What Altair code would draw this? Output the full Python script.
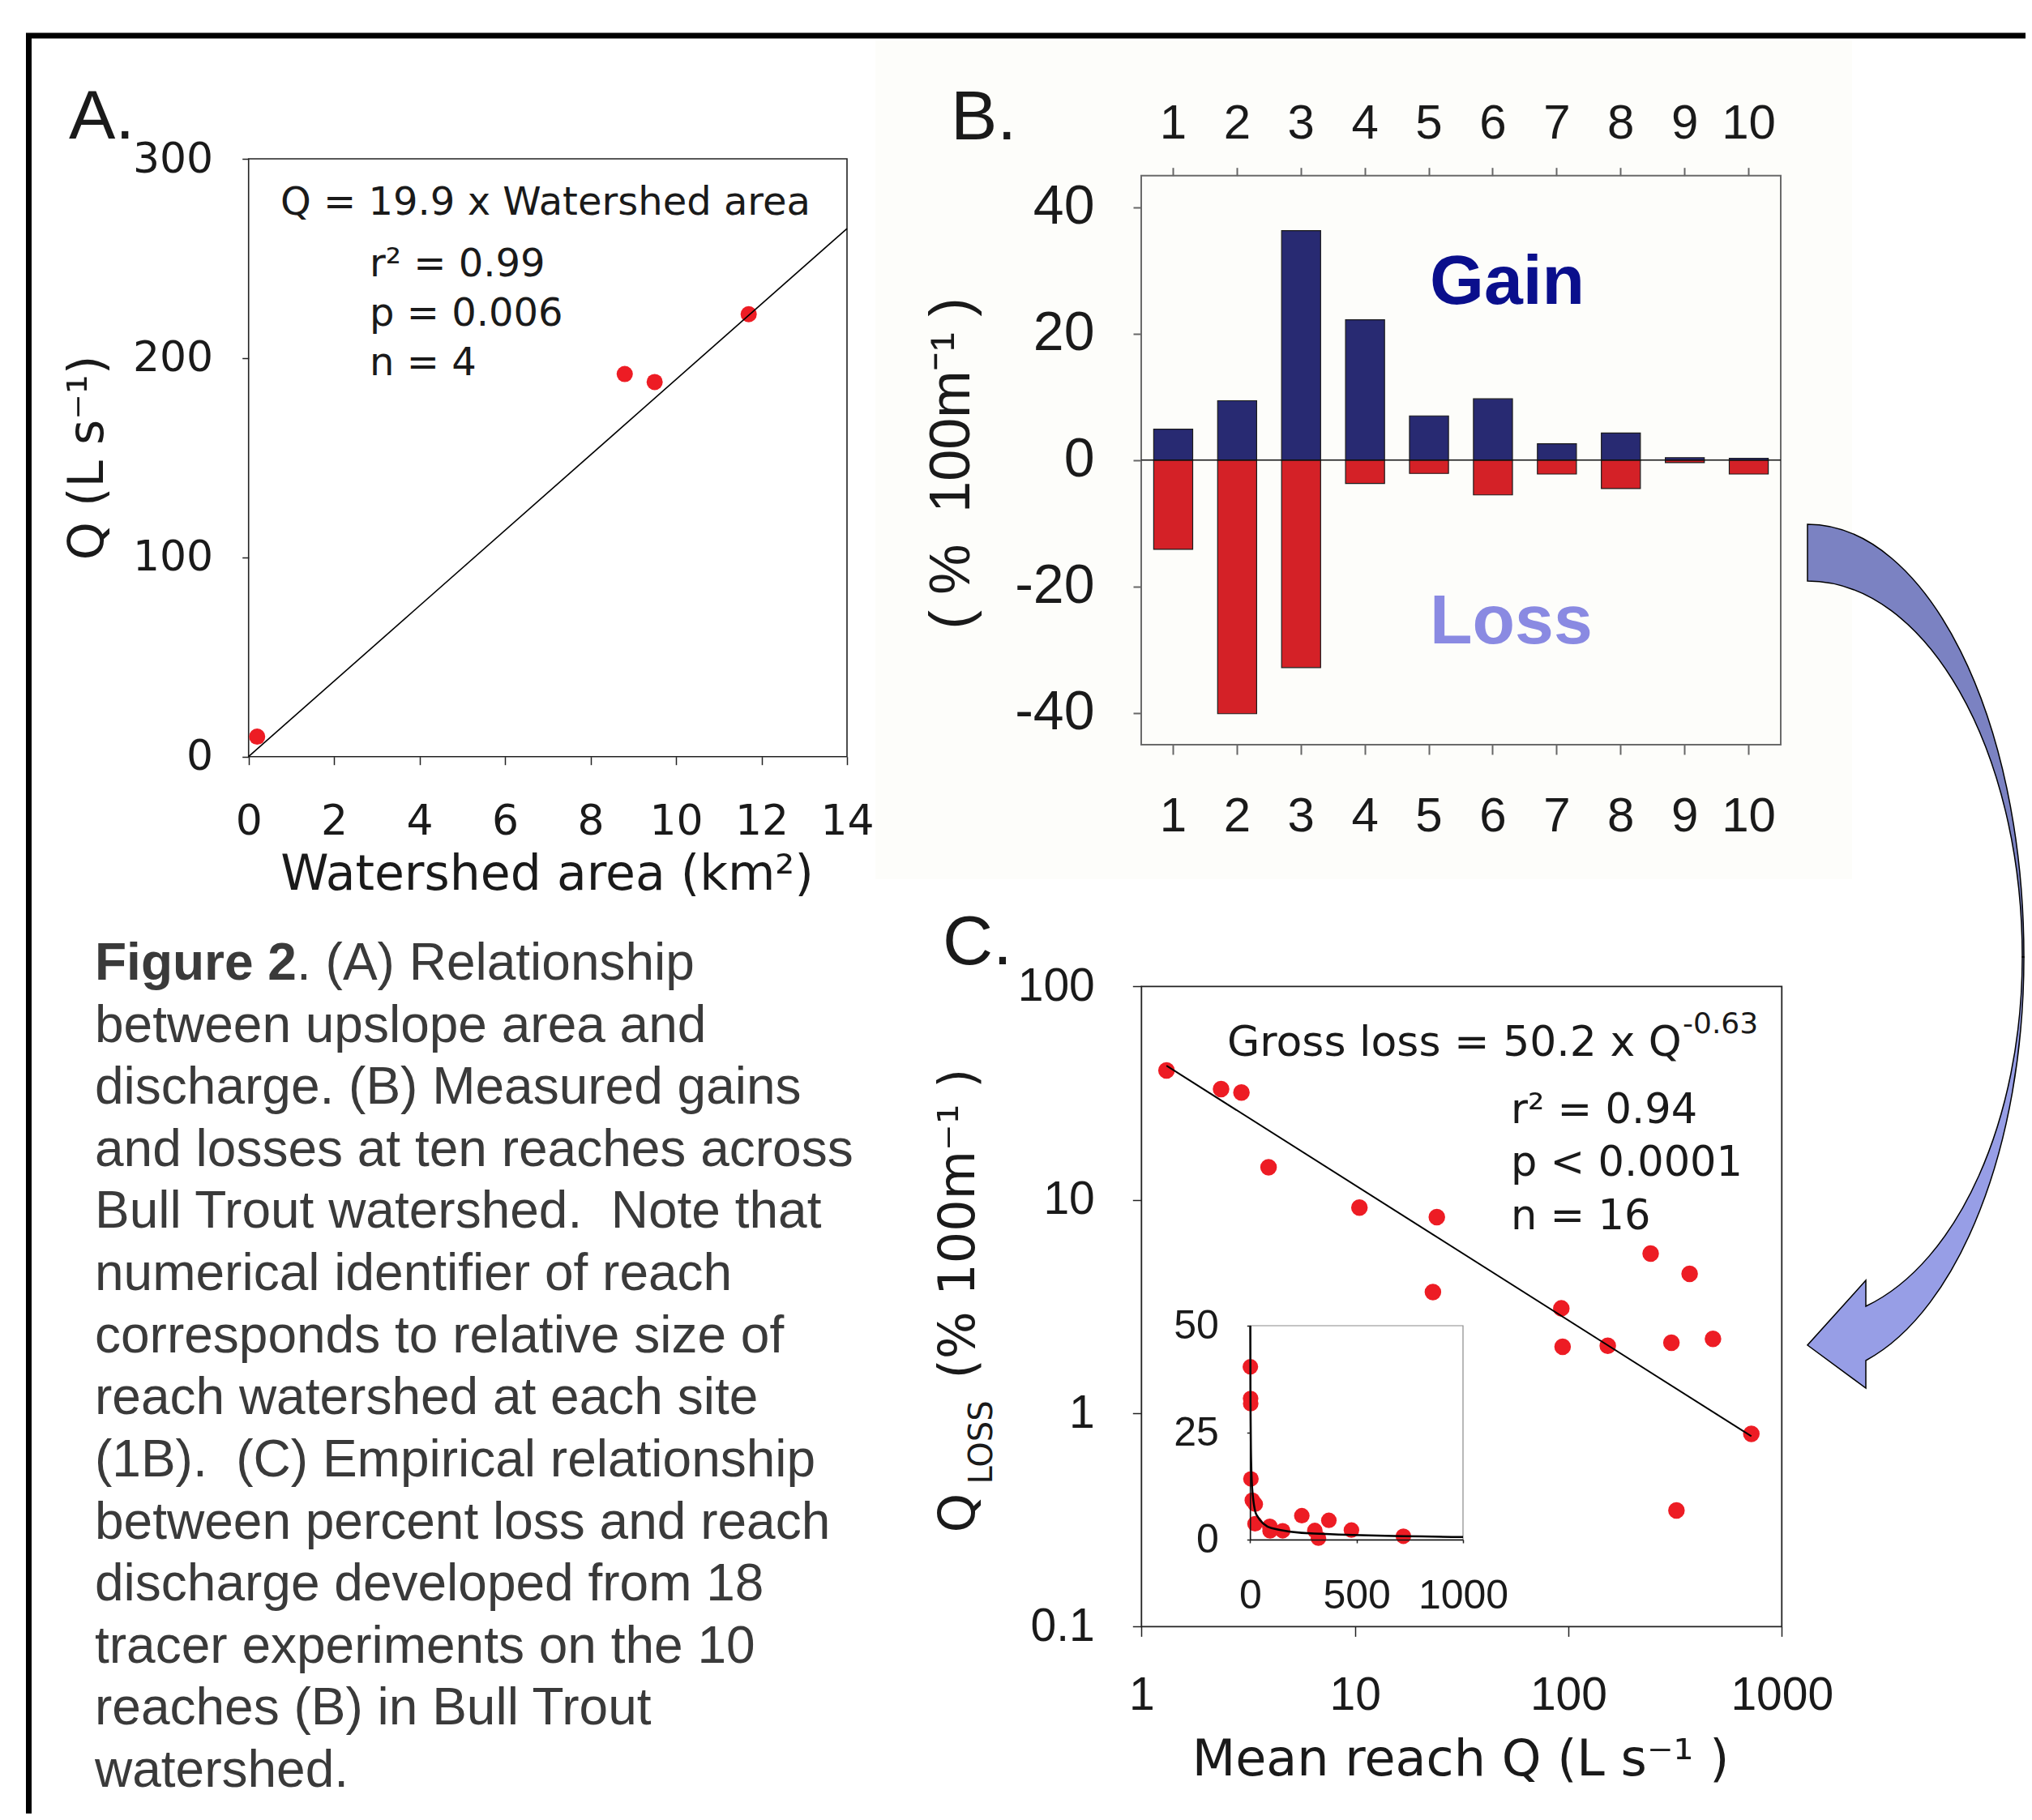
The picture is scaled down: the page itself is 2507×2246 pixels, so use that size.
import altair as alt
import pandas as pd

W, H = 2491, 2230
PAGE = 8


def c(v):
    return round(v - PAGE, 1)


WIDE = "DejaVu Sans"
ARIAL = "Liberation Sans"
INK = "#1a1a1a"
RED = "#ed1c24"
NB = "\u00a0"

# ---------------- data ----------------
# Panel A
area_km2 = [0.2, 8.8, 9.5, 11.7]
q_lps = [10, 192, 188, 222]
fitA_area = [0, 14]
fitA_q = [0, 265]

# Panel B
reach_ids = ["1", "2", "3", "4", "5", "6", "7", "8", "9", "10"]
gain_pct = [4.9, 9.4, 36.3, 22.2, 7.0, 9.7, 2.6, 4.3, 0.4, 0.3]
loss_pct = [-14.1, -40.1, -32.8, -3.7, -2.1, -5.5, -2.2, -4.5, -0.4, -2.2]

# Panel C
mean_q = [1.31, 2.36, 2.94, 3.94, 10.5, 24.2, 23.2, 92.7, 94, 153, 243, 304, 370, 476, 720, 321]
gross_loss = [40.4, 33.0, 31.8, 14.2, 9.2, 8.3, 3.7, 3.1, 2.05, 2.07, 5.6, 2.14, 4.5, 2.23, 0.80, 0.35]
fitC_q = [1.31, 720]
fitC_loss = [42.5, 0.78]
curve_q = [1, 2, 4, 10, 30, 100, 300, 1000]
curve_loss = [50, 32, 21, 11.8, 5.8, 2.7, 1.4, 0.6]

caption_rest = [
    "between upslope area and",
    "discharge. (B) Measured gains",
    "and losses at ten reaches across",
    "Bull Trout watershed." + NB + " Note that",
    "numerical identifier of reach",
    "corresponds to relative size of",
    "reach watershed at each site",
    "(1B)." + NB + " (C) Empirical relationship",
    "between percent loss and reach",
    "discharge developed from 18",
    "tracer experiments on the 10",
    "reaches (B) in Bull Trout",
    "watershed.",
]

# ---------------- scales ----------------
A_X = alt.Scale(domain=[0, 14], range=[c(306.7), c(1045)], nice=False, zero=False)
A_Y = alt.Scale(domain=[0, 300], range=[c(933.7), c(196)], nice=False, zero=False)
B_X = alt.Scale(domain=reach_ids, range=[c(1408), c(2197)], paddingInner=0.39, paddingOuter=0.195)
B_Y = alt.Scale(domain=[-45, 45], range=[c(919), c(216.7)], nice=False, zero=False)
C_X = alt.Scale(type="log", domain=[1, 1000], range=[c(1408.3), c(2198.3)], nice=False)
C_Y = alt.Scale(type="log", domain=[0.1, 100], range=[c(2007.4), c(1217.3)], nice=False)
I_X = alt.Scale(domain=[0, 1000], range=[c(1542.3), c(1805)], nice=False, zero=False)
I_Y = alt.Scale(domain=[0, 50], range=[c(1900), c(1636)], nice=False, zero=False)
CAP_Y = alt.Scale(domain=[0, 13], range=[c(1190), c(2186)], nice=False, zero=False)


def ax(orient, offset, values, tick, pad, font, size, color=INK, tcolor="#222",
       fmt=None, tw=1.5, domain=False, dcolor="#111", dwidth=1.5, expr=None):
    kw = dict(orient=orient, offset=offset, values=values, tickSize=tick, labelPadding=pad,
              labelFont=font, labelFontSize=size, labelColor=color, tickColor=tcolor,
              tickWidth=tw, domain=domain, grid=False, title=None, labelFlush=False,
              labelOverlap=False, labelAngle=0, zindex=2)
    if domain:
        kw["domainColor"] = dcolor
        kw["domainWidth"] = dwidth
    if orient in ("top", "bottom"):
        kw["labelBaseline"] = "middle"
    if fmt:
        kw["format"] = fmt
    if expr:
        kw["labelExpr"] = expr
    return alt.Axis(**kw)


one = pd.DataFrame({"k": [0]})


def text(txt, x, y, size, font=ARIAL, color=INK, align="left", baseline="alphabetic",
         weight="normal", angle=0):
    return alt.Chart(pd.DataFrame({"t": [txt]})).mark_text(
        font=font, fontSize=size, color=color, align=align, baseline=baseline,
        fontWeight=weight, angle=angle
    ).encode(text="t:N", x=alt.value(c(x)), y=alt.value(c(y)))


layers = []

# faint cream background of the panel-B image
layers.append(alt.Chart(one).mark_rect(color="#fdfdfa").encode(
    x=alt.value(c(1080)), x2=alt.value(c(2285)), y=alt.value(c(50)), y2=alt.value(c(1085))))

# outer black border (top and left)
layers.append(alt.Chart(one).mark_rule(color="black", strokeWidth=7).encode(
    x=alt.value(c(32)), x2=alt.value(W), y=alt.value(c(44))))
layers.append(alt.Chart(one).mark_rule(color="black", strokeWidth=7).encode(
    x=alt.value(c(35.5)), y=alt.value(c(41)), y2=alt.value(H)))

# ---------------- Panel A ----------------
dfA = pd.DataFrame({"area": area_km2, "q": q_lps})
dfAfit = pd.DataFrame({"area": fitA_area, "q": fitA_q})
layers.append(alt.Chart(one).mark_rect(fillOpacity=0, stroke="#222", strokeWidth=1.6).encode(
    x=alt.XDatum(0, scale=A_X, axis=None), x2=alt.X2Datum(14),
    y=alt.YDatum(0, scale=A_Y, axis=None), y2=alt.Y2Datum(300)))
layers.append(alt.Chart(dfA).mark_circle(size=400, color=RED, opacity=1).encode(
    x=alt.X("area:Q", scale=A_X,
            axis=ax("bottom", c(933.7) - H, [0, 2, 4, 6, 8, 10, 12, 14], 10, 70, WIDE, 52)),
    y=alt.Y("q:Q", scale=A_Y,
            axis=ax("left", -c(306.7), [0, 100, 200, 300], 8, 36, WIDE, 52))))
layers.append(alt.Chart(dfAfit).mark_line(color="black", strokeWidth=1.6).encode(
    x=alt.X("area:Q", scale=A_X, axis=None), y=alt.Y("q:Q", scale=A_Y, axis=None)))

# ---------------- Panel B ----------------
dfB = pd.DataFrame({"reach": reach_ids, "gain": gain_pct, "loss": loss_pct})
layers.append(alt.Chart(dfB).mark_bar(color="#282a72", stroke="#1b1b1b", strokeWidth=1.2).encode(
    x=alt.X("reach:N", scale=B_X, sort=reach_ids,
            axis=ax("bottom", c(919) - H, reach_ids, 12, 76, ARIAL, 60, tcolor="#666", tw=2)),
    y=alt.Y("gain:Q", scale=B_Y,
            axis=ax("left", -c(1408), [-40, -20, 0, 20, 40], 10, 48, ARIAL, 68,
                    tcolor="#666", tw=2, expr="'' + datum.value")),
    y2=alt.Y2Datum(0)))
layers.append(alt.Chart(dfB).mark_bar(color="#d42127", stroke="#1b1b1b", strokeWidth=1.2).encode(
    x=alt.X("reach:N", scale=B_X, sort=reach_ids,
            axis=ax("top", -c(216.7), reach_ids, 10, 54, ARIAL, 60, tcolor="#666", tw=2)),
    y=alt.Y("loss:Q", scale=B_Y, axis=None),
    y2=alt.Y2Datum(0)))
layers.append(alt.Chart(one).mark_rect(fillOpacity=0, stroke="#6a6a6a", strokeWidth=2).encode(
    x=alt.value(c(1408)), x2=alt.value(c(2197)),
    y=alt.YDatum(45, scale=B_Y, axis=None), y2=alt.Y2Datum(-45)))
layers.append(alt.Chart(one).mark_rule(color="#111", strokeWidth=1.5).encode(
    x=alt.value(c(1408)), x2=alt.value(c(2197)),
    y=alt.YDatum(0, scale=B_Y, axis=None)))

# ---------------- Panel C ----------------
dfC = pd.DataFrame({"mq": mean_q, "gl": gross_loss})
dfCfit = pd.DataFrame({"mq": fitC_q, "gl": fitC_loss})
dfCurve = pd.DataFrame({"mq": curve_q, "gl": curve_loss})
layers.append(alt.Chart(one).mark_rect(fillOpacity=0, stroke="#222", strokeWidth=1.8).encode(
    x=alt.XDatum(1, scale=C_X, axis=None), x2=alt.X2Datum(1000),
    y=alt.YDatum(0.1, scale=C_Y, axis=None), y2=alt.Y2Datum(100)))
layers.append(alt.Chart(dfC).mark_circle(size=420, color=RED, opacity=1).encode(
    x=alt.X("mq:Q", scale=C_X,
            axis=ax("bottom", c(2007.4) - H, [1, 10, 100, 1000], 12, 73, ARIAL, 57, fmt="~g")),
    y=alt.Y("gl:Q", scale=C_Y,
            axis=ax("left", -c(1408.3), [0.1, 1, 10, 100], 11, 47, ARIAL, 57, fmt="~g"))))
layers.append(alt.Chart(dfCfit).mark_line(color="black", strokeWidth=2).encode(
    x=alt.X("mq:Q", scale=C_X, axis=None), y=alt.Y("gl:Q", scale=C_Y, axis=None)))

# inset
layers.append(alt.Chart(one).mark_rect(fillOpacity=0, stroke="#8a8a8a", strokeWidth=1.2).encode(
    x=alt.XDatum(0, scale=I_X, axis=None), x2=alt.X2Datum(1000),
    y=alt.YDatum(0, scale=I_Y, axis=None), y2=alt.Y2Datum(50)))
layers.append(alt.Chart(dfC).mark_circle(size=370, color=RED, opacity=1).encode(
    x=alt.X("mq:Q", scale=I_X,
            axis=ax("bottom", c(1900) - H, [0, 500, 1000], 4, 65, ARIAL, 50, fmt="d", domain=True)),
    y=alt.Y("gl:Q", scale=I_Y,
            axis=ax("left", -c(1542.3), [0, 25, 50], 4, 35, ARIAL, 50, fmt="d", domain=True))))
layers.append(alt.Chart(dfCurve).mark_line(color="black", strokeWidth=2.5, interpolate="monotone").encode(
    x=alt.X("mq:Q", scale=I_X, axis=None), y=alt.Y("gl:Q", scale=I_Y, axis=None)))

# ---------------- texts ----------------
layers += [
    text("A.", 85, 171, 86),
    text("B.", 1173, 172, 86),
    text("C.", 1163, 1190, 86),
    # panel A
    text("Q = 19.9 x Watershed area", 346, 265, 48, WIDE),
    text("r² = 0.99", 456, 341, 48, WIDE),
    text("p = 0.006", 456, 402, 48, WIDE),
    text("n = 4", 456, 463, 48, WIDE),
    text("Watershed area (km²)", 675, 1098, 60, WIDE, align="center"),
    text("Q (L s⁻¹)", 109, 565, 60, WIDE, align="center", baseline="middle", angle=270),
    # panel B
    text("(" + NB + "%" + NB + " 100m⁻¹" + NB + ")", 1175, 572, 70, ARIAL,
         align="center", baseline="middle", angle=270),
    text("Gain", 1764, 349, 86, ARIAL, color="#0a0f8c", baseline="middle", weight="bold"),
    text("Loss", 1764, 768, 86, ARIAL, color="#8a8ae2", baseline="middle", weight="bold"),
    # panel C
    text("Gross loss = 50.2 x Q", 1514, 1303, 52, WIDE),
    text("-0.63", 2076, 1275, 36, WIDE),
    text("r² = 0.94", 1864, 1386, 51, WIDE),
    text("p < 0.0001", 1864, 1451, 51, WIDE),
    text("n = 16", 1864, 1517, 51, WIDE),
    text("Mean reach Q (L s⁻¹ )", 1802, 2191, 62, WIDE, align="center"),
    text("(% 100m⁻¹ )", 1183, 1510, 62, WIDE, align="center", baseline="middle", angle=270),
    text("Q", 1183, 1867, 62, WIDE, align="center", baseline="middle", angle=270),
    text("LOSS", 1212, 1780, 40, WIDE, align="center", baseline="middle", angle=270),
]

# caption
cap_df = pd.DataFrame({"i": list(range(1, 14)), "t": caption_rest})
layers.append(alt.Chart(cap_df).mark_text(
    font=ARIAL, fontSize=64, color="#3a3a3a", align="left", baseline="middle").encode(
    text="t:N", x=alt.value(c(117)), y=alt.Y("i:Q", scale=CAP_Y, axis=None)))
layers.append(alt.Chart(pd.DataFrame({"i": [0], "t": ["Figure 2"]})).mark_text(
    font=ARIAL, fontSize=64, color="#3a3a3a", align="left", baseline="middle", fontWeight="bold").encode(
    text="t:N", x=alt.value(c(117)), y=alt.Y("i:Q", scale=CAP_Y, axis=None)))
layers.append(alt.Chart(pd.DataFrame({"i": [0], "t": [". (A) Relationship"]})).mark_text(
    font=ARIAL, fontSize=64, color="#3a3a3a", align="left", baseline="middle").encode(
    text="t:N", x=alt.value(c(366)), y=alt.Y("i:Q", scale=CAP_Y, axis=None)))


# ---------------- curved arrow (decoration) ----------------
def P(x, y):
    return f"{c(x)},{c(y)}"


upper = (f"M{P(2230, 647)} A267,534 0 0 1 {P(2497, 1181)} L{P(2495, 1181)} "
         f"A265,464 0 0 0 {P(2230, 717)} Z")
lower = (f"M{P(2497, 1181)} A267,517 0 0 1 {P(2302, 1679)} L{P(2302, 1713)} L{P(2230, 1660)} "
         f"L{P(2302, 1580)} L{P(2302, 1612)} A265,448 0 0 0 {P(2495, 1181)} Z")
for shp, col in [(upper, "#7b82c2"), (lower, "#979ee6")]:
    layers.append(alt.Chart(one).mark_point(
        shape=shp, size=4, filled=True, fill=col, stroke="black", strokeWidth=1.5, opacity=1).encode(
        x=alt.value(0), y=alt.value(0)))

chart = alt.layer(*layers).resolve_scale(x="independent", y="independent").properties(
    width=W, height=H, autosize="none", padding=0, background="white"
).configure_view(stroke=None)

chart.save("out.html", embed_options={"renderer": "svg", "actions": False})
